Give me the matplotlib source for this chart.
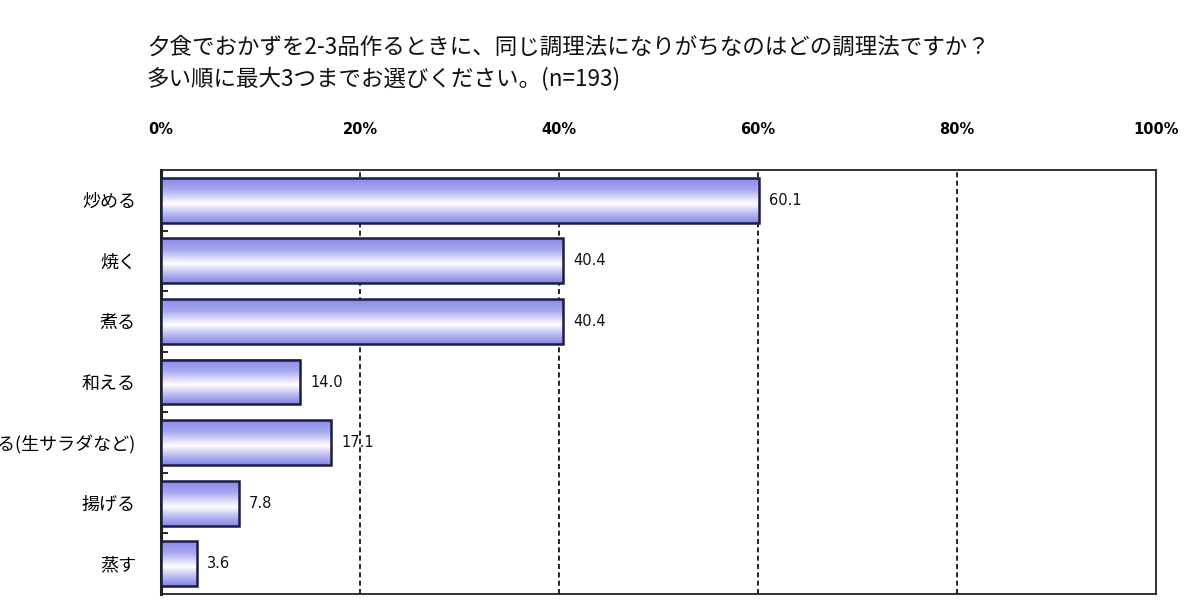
import numpy as np
import matplotlib
matplotlib.use("Agg")
import matplotlib.pyplot as plt
from matplotlib.colors import LinearSegmentedColormap

plt.rcParams['font.family'] = ['Noto Sans CJK JP', 'DejaVu Sans']

categories = ["炒める", "焼く", "煮る", "和える", "切る(生サラダなど)", "揚げる", "蒸す"]
values = [60.1, 40.4, 40.4, 14.0, 17.1, 7.8, 3.6]
xticks = [0, 20, 40, 60, 80, 100]
xtick_labels = ["0%", "20%", "40%", "60%", "80%", "100%"]
title_lines = ["夕食でおかずを2-3品作るときに、同じ調理法になりがちなのはどの調理法ですか？",
               "多い順に最大3つまでお選びください。(n=193)"]

W, H = 1200, 614
fig = plt.figure(figsize=(W / 100, H / 100), dpi=100)
ax = fig.add_axes([161 / W, 1 - 594 / H, (1156 - 161) / W, (594 - 170) / H])

y = np.arange(len(categories))
bars = ax.barh(y, values, height=0.74, facecolor='none', edgecolor='#1c1c48',
               linewidth=1.8, zorder=4)

cmap = LinearSegmentedColormap.from_list(
    "g", [(0.0, "#8a8ae8"), (0.25, "#a6a6f0"), (0.57, "#ffffff"), (0.78, "#bcbcf4"), (1.0, "#8484e4")])
grad = np.linspace(0, 1, 256).reshape(-1, 1)
for b in bars:
    x0, y0 = b.get_x(), b.get_y()
    w, h = b.get_width(), b.get_height()
    ax.imshow(grad, cmap=cmap, aspect='auto', extent=(x0, x0 + w, y0 + h, y0),
              zorder=3, interpolation='bilinear')

for b, v in zip(bars, values):
    ax.text(b.get_width() + 1.0, b.get_y() + b.get_height() / 2, f"{v:.1f}",
            va='center', ha='left', fontsize=10.5, family='DejaVu Sans', color='#111111', zorder=5)

ax.set_xlim(0, 100)
ax.set_ylim(len(categories) - 0.5, -0.5)
for xv in xticks[1:-1]:
    ax.axvline(xv, color='black', linestyle=(0, (3, 2)), linewidth=1.2, zorder=2)

ax.xaxis.tick_top()
ax.set_xticks(xticks)
ax.set_xticklabels(xtick_labels, fontsize=10.5, fontweight='bold', family='DejaVu Sans')
ax.tick_params(axis='x', length=0, pad=24)
ax.set_yticks(y)
ax.set_yticklabels(categories, fontsize=13)
ax.tick_params(axis='y', length=0, pad=18)
ax.set_yticks(np.arange(len(categories) - 1) + 0.5, minor=True)
ax.tick_params(axis='y', which='minor', direction='in', length=5, width=1.2)

for s in ax.spines.values():
    s.set_color('#222222')
    s.set_linewidth(1.3)
ax.spines['left'].set_linewidth(2.2)

fig.text(147 / W, 1 - 47 / H, title_lines[0], fontsize=16.2, va='center', ha='left', color='#111111')
fig.text(147 / W, 1 - 79 / H, title_lines[1], fontsize=16.2, va='center', ha='left', color='#111111')

fig.savefig("out.png", dpi=100)
